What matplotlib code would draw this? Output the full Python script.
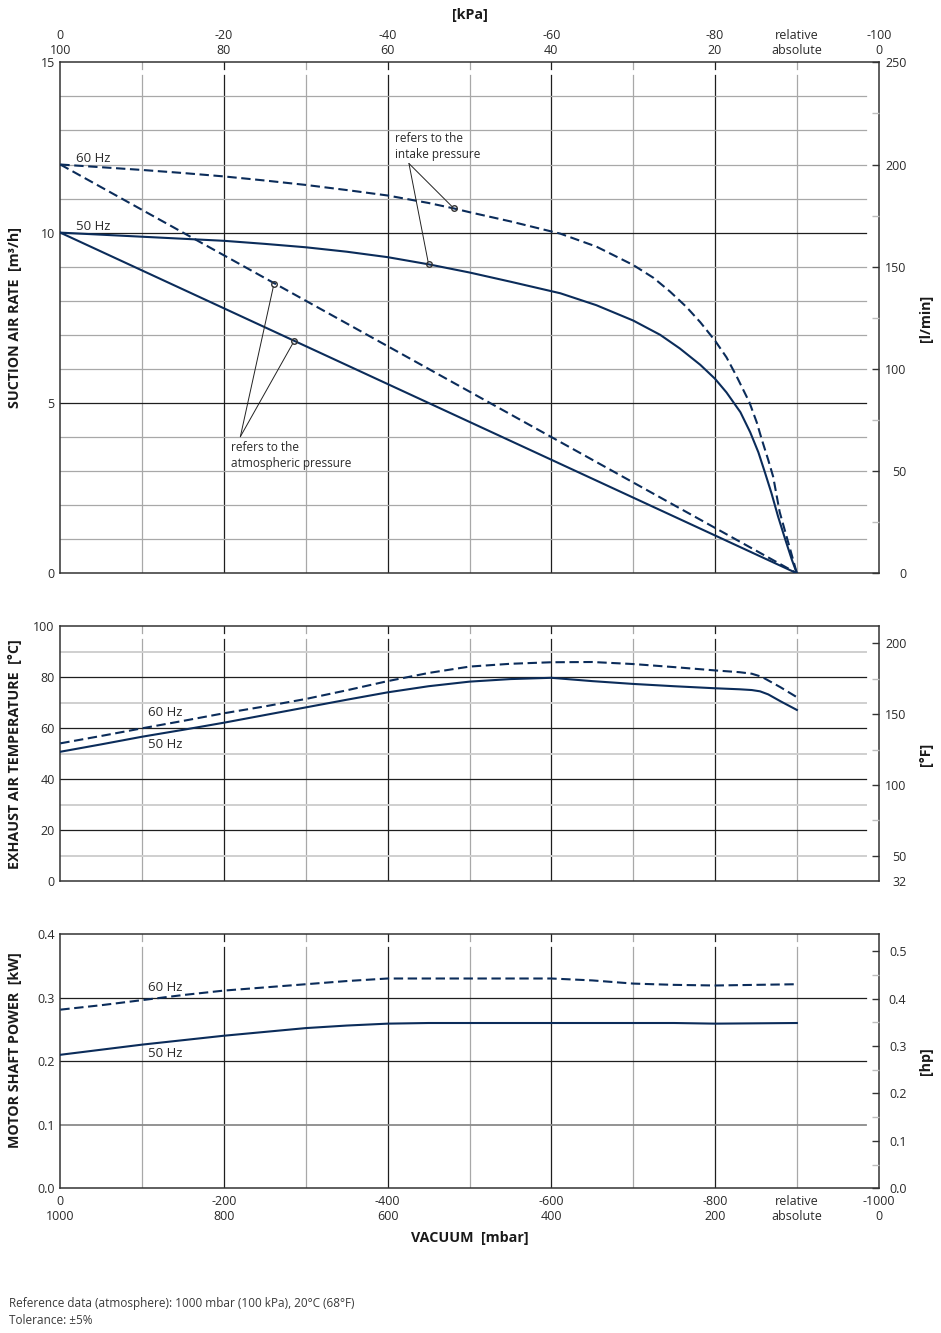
import matplotlib
matplotlib.use('Agg')
import matplotlib.pyplot as plt

plt.rcParams['font.family'] = ['Open Sans', 'DejaVu Sans']

# --- data (vacuum in mbar, negative = relative) ---
# suction air rate [m3/h], curves referring to the intake pressure
vac_intake_50 = [0, -50, -100, -150, -200, -250, -300, -350, -400, -450, -500, -550,
                 -611, -655, -700, -733, -757, -782, -800, -814, -831, -843, -853,
                 -861, -869, -877, -886, -894, -900]
flow_intake_50 = [10.0, 9.94, 9.88, 9.82, 9.76, 9.67, 9.57, 9.44, 9.28, 9.07, 8.83, 8.56,
                  8.22, 7.87, 7.42, 7.00, 6.60, 6.12, 5.71, 5.31, 4.73, 4.14, 3.55,
                  2.96, 2.35, 1.67, 0.98, 0.39, 0.0]
vac_intake_60 = [0, -50, -100, -150, -200, -250, -300, -350, -400, -450, -481, -500, -550,
                 -611, -655, -700, -725, -745, -765, -782, -800, -814, -826, -842, -851,
                 -857, -865, -871, -879, -886, -892, -900]
flow_intake_60 = [12.0, 11.92, 11.84, 11.75, 11.65, 11.53, 11.40, 11.25, 11.09, 10.87, 10.71,
                  10.60, 10.33, 9.97, 9.59, 9.05, 8.67, 8.27, 7.82, 7.37, 6.83, 6.34, 5.80,
                  5.02, 4.43, 3.94, 3.33, 2.84, 1.80, 1.20, 0.69, 0.0]
# curves referring to the atmospheric pressure (straight lines)
vac_atm = [0, -900]
flow_atm_50 = [10.0, 0.0]
flow_atm_60 = [12.0, 0.0]

# exhaust air temperature [degC]
vac_temp_50 = [0, -50, -100, -150, -200, -250, -300, -350, -400, -450, -500, -550, -600,
               -650, -700, -750, -800, -830, -845, -855, -865, -880, -900]
temp_50 = [50.8, 53.7, 56.7, 59.4, 62.2, 65.2, 68.2, 71.2, 74.1, 76.5, 78.3, 79.3, 79.8,
           78.5, 77.4, 76.5, 75.7, 75.3, 75.0, 74.5, 73.3, 70.6, 67.2]
vac_temp_60 = [0, -50, -100, -150, -200, -250, -300, -350, -400, -450, -500, -550, -600,
               -650, -700, -750, -800, -830, -845, -857, -880, -900]
temp_60 = [54.1, 57.0, 60.0, 62.9, 65.9, 68.6, 71.5, 74.9, 78.5, 81.7, 84.2, 85.3, 85.9,
           86.0, 85.2, 84.0, 82.7, 82.0, 81.4, 80.2, 76.1, 72.2]

# motor shaft power [kW]
vac_power = [0, -50, -100, -150, -200, -250, -300, -350, -400, -450, -500, -600, -650,
             -700, -750, -800, -900]
power_50 = [0.210, 0.218, 0.226, 0.233, 0.240, 0.246, 0.252, 0.256, 0.259, 0.260, 0.260,
            0.260, 0.260, 0.260, 0.260, 0.259, 0.260]
power_60 = [0.281, 0.288, 0.296, 0.304, 0.311, 0.316, 0.321, 0.326, 0.330, 0.330, 0.330,
            0.330, 0.327, 0.322, 0.320, 0.319, 0.321]

# annotation markers (vacuum, flow)
intake_marks = [(-481, 10.71), (-450, 9.07)]
atm_marks = [(-261, 8.49), (-286, 6.83)]

x_major = [-200, -400, -600, -800]
x_minor = [-100, -300, -500, -700, -900]
x_label_pos = [0, -200, -400, -600, -800, -900, -1000]
x_top_labels = ['0\n100', '-20\n80', '-40\n60', '-60\n40', '-80\n20',
                'relative\nabsolute', '-100\n0']
x_bottom_labels = ['0\n1000', '-200\n800', '-400\n600', '-600\n400', '-800\n200',
                   'relative\nabsolute', '-1000\n0']

NAVY = '#0b2c5a'
TXT = '#2a2a2a'
BLACK_GRID = '#1e1e1e'
GRAY_GRID = '#a8a8a8'

W, H = 941, 1333
LEFT, RIGHT = 60.3, 878.7


def add_axes(top, bottom):
    return fig.add_axes([LEFT / W, 1 - bottom / H, (RIGHT - LEFT) / W, (bottom - top) / H])


def style_panel(ax, top, bottom, ylim, hmajor, hminor, yticks, yfmt, hminor_color=GRAY_GRID,
                hminor_lw=0.9):
    h_px = bottom - top
    w_px = RIGHT - LEFT
    ax.set_xlim(0, -1000)
    ax.set_ylim(*ylim)
    for s in ax.spines.values():
        s.set_color('#333333')
        s.set_linewidth(1.1)
    # vertical grid, with a small gap below the top spine
    for v in x_major + x_minor:
        c = BLACK_GRID if v in x_major else GRAY_GRID
        ax.axvline(v, ymin=0, ymax=1 - 13 / h_px, color=c, lw=0.9, zorder=1)
        ax.axvline(v, ymin=1 - 7 / h_px, ymax=1, color=c, lw=0.9, zorder=1)
    # horizontal grid stops short of the right spine
    for y in hmajor:
        ax.axhline(y, xmin=0, xmax=1 - 13 / w_px, color=BLACK_GRID, lw=0.9, zorder=1)
    for y in hminor:
        ax.axhline(y, xmin=0, xmax=1 - 13 / w_px, color=hminor_color, lw=hminor_lw, zorder=1)
    ax.set_yticks(yticks)
    ax.set_yticklabels([yfmt.format(t) for t in yticks])
    ax.tick_params(axis='y', length=0, pad=4, labelsize=9, labelcolor=TXT)
    ax.set_xticks(x_label_pos)
    ax.tick_params(axis='x', length=0, labelsize=9, labelcolor=TXT,
                   top=False, bottom=False, labeltop=False, labelbottom=False)


def style_right(ax, ylim, major, minor, labels, hide_first_tick=False):
    ax2 = ax.twinx()
    ax2.set_ylim(*ylim)
    ax2.set_yticks(major)
    ax2.set_yticklabels(labels)
    ax2.set_yticks(minor, minor=True)
    ax2.tick_params(axis='y', which='major', direction='in', length=5, width=1.0,
                    color='#333333', pad=20, labelsize=9, labelcolor=TXT)
    ax2.tick_params(axis='y', which='minor', direction='in', length=5, width=1.0,
                    color='#bdbdbd')
    for lbl in ax2.get_yticklabels():
        lbl.set_ha('right')
    if hide_first_tick:
        ax2.yaxis.get_major_ticks()[0].tick2line.set_visible(False)
    for s in ax2.spines.values():
        s.set_visible(False)
    return ax2


fig = plt.figure(figsize=(W / 100, H / 100), dpi=100)

line_kw = dict(color=NAVY, lw=1.5, zorder=3, solid_joinstyle='round')
dash_kw = dict(color=NAVY, lw=1.5, zorder=3, dashes=(4.5, 2.2), dash_joinstyle='round')

# ---------- panel 1: suction air rate ----------
TOP1, BOT1 = 62.3, 573.3
ax1 = add_axes(TOP1, BOT1)
style_panel(ax1, TOP1, BOT1, (0, 15), [5, 10],
            [1, 2, 3, 4, 6, 7, 8, 9, 11, 12, 13, 14], [0, 5, 10, 15], '{:g}')
ax1.tick_params(axis='x', labeltop=True, pad=4)
ax1.set_xticklabels(x_top_labels, linespacing=1.15)

ax1.plot(vac_intake_50, flow_intake_50, **line_kw)
ax1.plot(vac_intake_60, flow_intake_60, **dash_kw)
ax1.plot(vac_atm, flow_atm_50, **line_kw)
ax1.plot(vac_atm, flow_atm_60, **dash_kw)

ax1.text(-19, 12.18, '60 Hz', fontsize=9.5, color=TXT, va='center', ha='left')
ax1.text(-19, 10.19, '50 Hz', fontsize=9.5, color=TXT, va='center', ha='left')

ax1.text(-409, 12.53, 'refers to the\nintake pressure', fontsize=8.5, color=TXT,
         va='center', ha='left', linespacing=1.3)
ax1.text(-208, 3.47, 'refers to the\natmospheric pressure', fontsize=8.5, color=TXT,
         va='center', ha='left', linespacing=1.3)
for (mx, my) in intake_marks:
    ax1.annotate('', xy=(mx, my), xytext=(-426, 12.03),
                 arrowprops=dict(arrowstyle='-', color='#222222', lw=0.7,
                                 shrinkA=0, shrinkB=2))
    ax1.plot(mx, my, 'o', ms=4, mfc='none', mec='#333333', mew=1.0, zorder=4)
for (mx, my) in atm_marks:
    ax1.annotate('', xy=(mx, my), xytext=(-220, 4.01),
                 arrowprops=dict(arrowstyle='-', color='#222222', lw=0.7,
                                 shrinkA=0, shrinkB=2))
    ax1.plot(mx, my, 'o', ms=4, mfc='none', mec='#333333', mew=1.0, zorder=4)

style_right(ax1, (0, 250), [0, 50, 100, 150, 200, 250], [25, 75, 125, 175, 225],
            ['0', '50', '100', '150', '200', '250'])

# ---------- panel 2: exhaust air temperature ----------
TOP2, BOT2 = 626.3, 881.3
ax2 = add_axes(TOP2, BOT2)
style_panel(ax2, TOP2, BOT2, (0, 100), [20, 40, 60, 80], [10, 30, 50, 70, 90],
            [0, 20, 40, 60, 80, 100], '{:g}', hminor_color='#cfcfcf', hminor_lw=1.4)
ax2.plot(vac_temp_50, temp_50, **line_kw)
ax2.plot(vac_temp_60, temp_60, **dash_kw)
ax2.text(-107, 66.3, '60 Hz', fontsize=9.5, color=TXT, va='center', ha='left')
ax2.text(-107, 53.7, '50 Hz', fontsize=9.5, color=TXT, va='center', ha='left')
style_right(ax2, (32, 212), [32, 50, 100, 150, 200], [75, 125, 175],
            ['32', '50', '100', '150', '200'], hide_first_tick=True)

# ---------- panel 3: motor shaft power ----------
TOP3, BOT3 = 934.0, 1188.3
ax3 = add_axes(TOP3, BOT3)
style_panel(ax3, TOP3, BOT3, (0, 0.4), [0.2, 0.3], [0.1],
            [0.0, 0.1, 0.2, 0.3, 0.4], '{:.1f}', hminor_color='#8a8a8a', hminor_lw=1.3)
ax3.tick_params(axis='x', labelbottom=True, pad=5)
ax3.set_xticklabels(x_bottom_labels, linespacing=1.15)
ax3.plot(vac_power, power_50, **line_kw)
ax3.plot(vac_power, power_60, **dash_kw)
ax3.text(-107, 0.316, '60 Hz', fontsize=9.5, color=TXT, va='center', ha='left')
ax3.text(-107, 0.2115, '50 Hz', fontsize=9.5, color=TXT, va='center', ha='left')
style_right(ax3, (0, 0.4 / 0.7457), [0.0, 0.1, 0.2, 0.3, 0.4, 0.5],
            [0.05, 0.15, 0.25, 0.35, 0.45],
            ['0.0', '0.1', '0.2', '0.3', '0.4', '0.5'])

# ---------- axis titles ----------
bold = dict(fontsize=10.3, fontweight='bold', color='#1a1a1a', ha='center', va='center')
fig.text(470 / W, 1 - 15 / H, '[kPa]', **bold)
fig.text(470 / W, 1 - 1238 / H, 'VACUUM  [mbar]', **bold)
fig.text(15 / W, 1 - 318 / H, 'SUCTION AIR RATE  [m³/h]', rotation=90, **bold)
fig.text(15 / W, 1 - 754 / H, 'EXHAUST AIR TEMPERATURE  [°C]', rotation=90, **bold)
fig.text(15 / W, 1 - 1050 / H, 'MOTOR SHAFT POWER  [kW]', rotation=90, **bold)
fig.text(926 / W, 1 - 318 / H, '[l/min]', rotation=90, **bold)
fig.text(926 / W, 1 - 754 / H, '[°F]', rotation=90, **bold)
fig.text(926 / W, 1 - 1061 / H, '[hp]', rotation=90, **bold)

# ---------- footer ----------
fig.text(9 / W, 1 - 1304 / H, 'Reference data (atmosphere): 1000 mbar (100 kPa), 20°C (68°F)',
         fontsize=8.5, color='#3a3a3a', ha='left', va='center')
fig.text(9 / W, 1 - 1320 / H, 'Tolerance: ±5%',
         fontsize=8.5, color='#3a3a3a', ha='left', va='center')

fig.savefig('out.png', dpi=100)
